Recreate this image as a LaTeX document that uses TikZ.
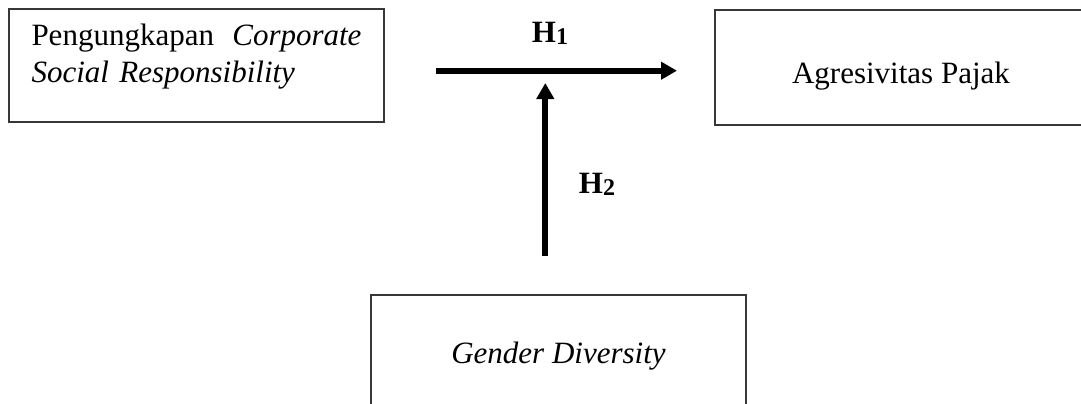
\documentclass[tikz,border=0pt]{standalone}
\usepackage{fontspec}
\setmainfont{Liberation Serif}
\usepackage{tikz}
\usetikzlibrary{arrows.meta,positioning}
\definecolor{boxline}{RGB}{55,55,55}

\newcommand{\hyplabel}[1]{H\raisebox{-2pt}{\fontsize{24}{24}\selectfont #1}}

\begin{document}
\begin{tikzpicture}[x=1pt, y=-1pt,
    every node/.style={font=\fontsize{31}{37}\selectfont},
    box/.style={draw=boxline, line width=1.3pt, inner sep=0pt},
    link/.style={line width=6pt, -{Triangle[length=16pt,width=17pt]}},
    hyp/.style={font=\fontsize{31}{37}\selectfont\bfseries}]
    \useasboundingbox (0,0) rectangle (1081,404);
    \clip (0,0) rectangle (1081,404);

    % Variable boxes
    \node[box, minimum width=375pt, minimum height=113pt, text width=330pt, align=left] (csr) at (196.5,65.5)
        {Pengungkapan\hfill\textit{Corporate}\\\textit{Social Responsibility}\rule[-24pt]{0pt}{24pt}};
    \node[box, minimum width=372pt, minimum height=115pt, text height=38pt, text depth=7pt] (tax) at (901,67.5)
        {Agresivitas Pajak};
    \node[box, minimum width=375pt, minimum height=122pt] (gd) at (558.5,356)
        {\textit{Gender Diversity}};

    % Arrows
    \coordinate (hstart) at (436,70.7);
    \coordinate (hend) at (677,70.7);
    \coordinate (mstart) at (545.3,256);
    \coordinate (mend) at (545.3,83);
    \draw[link] (hstart) -- (hend);
    \draw[link] (mstart) -- (mend);

    % Hypothesis labels
    \node[hyp] (hone) at (550,33) {\hyplabel{1}};
    \node[hyp] (htwo) at (597,184) {\hyplabel{2}};
\end{tikzpicture}
\end{document}
